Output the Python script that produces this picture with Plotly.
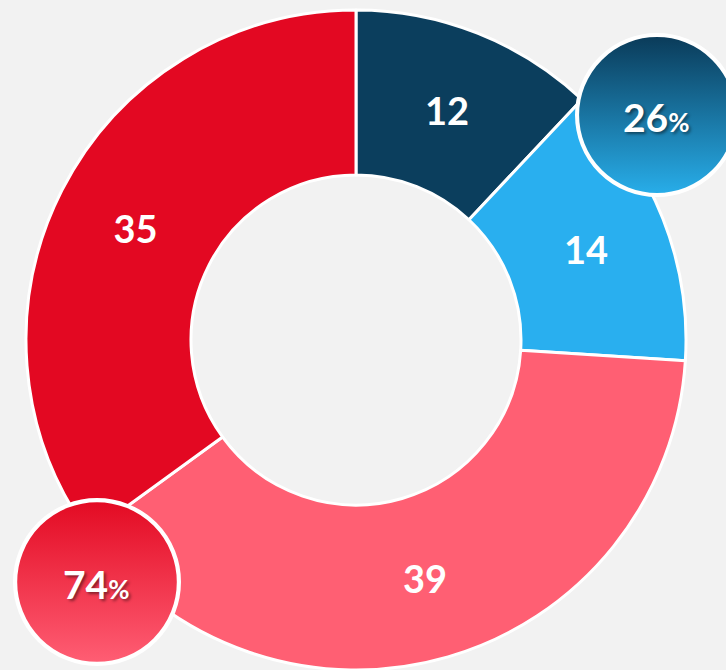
import base64
import plotly.graph_objects as go

# ---- data ----
categories = ["A", "B", "C", "D"]
values = [12, 14, 39, 35]
slice_colors = ["#0B3E5D", "#29AFEF", "#FF5F73", "#E30822"]
group_blue = [0, 1]   # indexes summed for the blue badge
group_red = [2, 3]    # indexes summed for the red badge

W, H = 726, 670
total = sum(values)
pct_blue = round(100 * sum(values[i] for i in group_blue) / total)
pct_red = round(100 * sum(values[i] for i in group_red) / total)

fig = go.Figure()
fig.add_trace(go.Pie(
    labels=categories,
    values=values,
    sort=False,
    direction="clockwise",
    rotation=0,
    hole=0.5,
    marker=dict(colors=slice_colors, line=dict(color="white", width=3)),
    textinfo="value",
    textposition="inside",
    insidetextorientation="horizontal",
    textfont=dict(family="Lato", size=38, color="white", weight="bold"),
    domain=dict(x=[26 / W, 686 / W], y=[0, 660 / H]),
    showlegend=False,
    hoverinfo="label+value",
))


def badge_svg(top, bottom):
    svg = (
        '<svg xmlns="http://www.w3.org/2000/svg" width="200" height="200" viewBox="0 0 200 200">'
        '<defs><linearGradient id="g" x1="0" y1="0" x2="0" y2="1">'
        f'<stop offset="0" stop-color="{top}"/><stop offset="1" stop-color="{bottom}"/>'
        '</linearGradient></defs>'
        '<circle cx="100" cy="100" r="97.5" fill="url(#g)" stroke="white" stroke-width="5"/>'
        '</svg>'
    )
    return "data:image/svg+xml;base64," + base64.b64encode(svg.encode()).decode()


badges = [
    dict(cx=657, cy=115, r=82, top="#0A3A58", bottom="#28AEEA", pct=pct_blue),
    dict(cx=97, cy=582, r=84, top="#E30A22", bottom="#FF5E74", pct=pct_red),
]

images = []
annotations = []
for b in badges:
    images.append(dict(
        source=badge_svg(b["top"], b["bottom"]),
        xref="paper", yref="paper",
        x=(b["cx"] - b["r"]) / W, y=1 - (b["cy"] - b["r"]) / H,
        sizex=2 * b["r"] / W, sizey=2 * b["r"] / H,
        xanchor="left", yanchor="top", sizing="stretch", layer="above",
    ))
    annotations.append(dict(
        xref="paper", yref="paper",
        x=(b["cx"] - 1) / W, y=1 - (b["cy"] + 2) / H,
        text=f"<b>{b['pct']}</b><span style='font-size:26px'><b>%</b></span>",
        showarrow=False,
        font=dict(family="Lato", size=39, color="white",
                  shadow="2px 2px 3px rgba(0,0,0,0.45)"),
        xanchor="center", yanchor="middle",
    ))

fig.update_layout(
    width=W, height=H,
    margin=dict(l=0, r=0, t=0, b=0),
    paper_bgcolor="#F2F2F2",
    plot_bgcolor="#F2F2F2",
    images=images,
    annotations=annotations,
)

fig.write_html(
    "out.html",
    config={"displayModeBar": False},
    post_script="document.body.style.margin='0';document.body.style.background='#F2F2F2';",
)
